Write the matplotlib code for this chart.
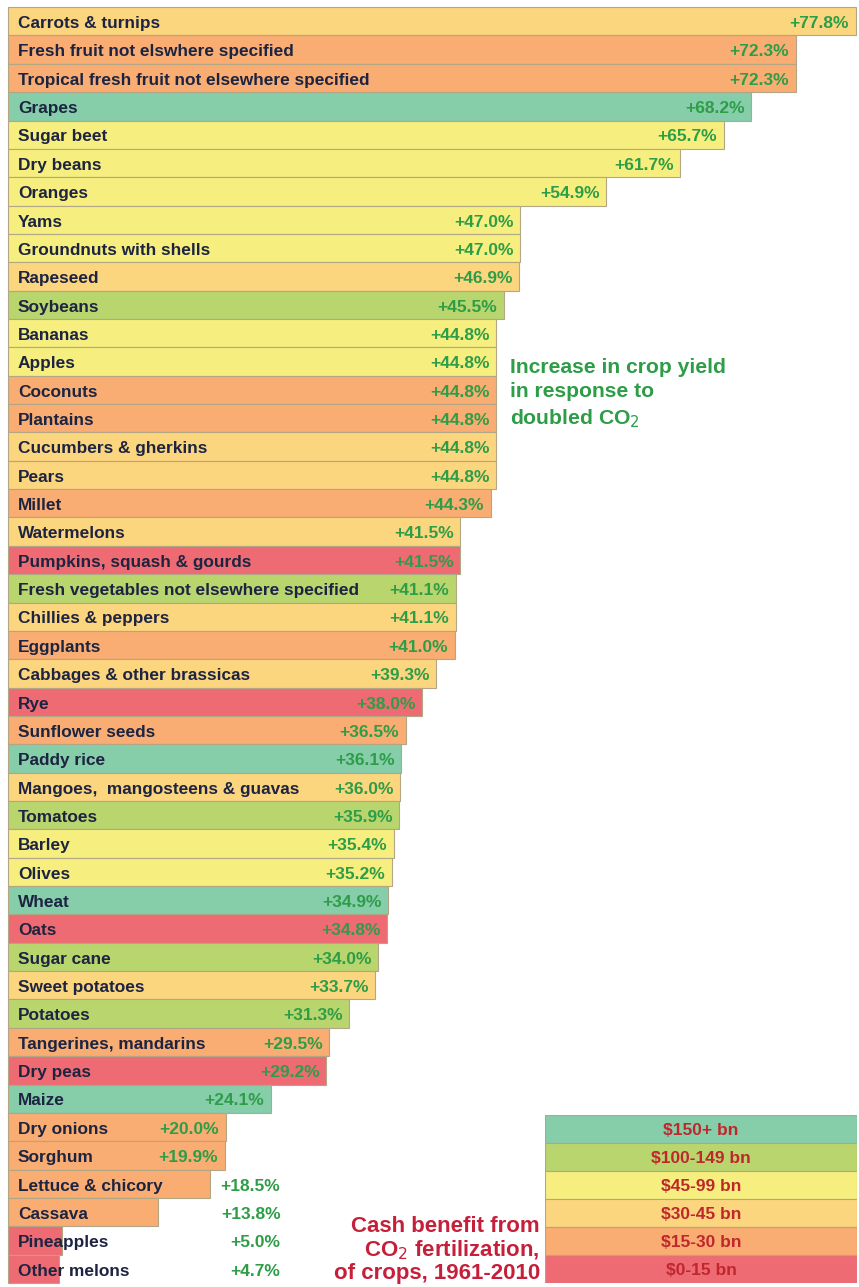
import matplotlib
matplotlib.use("Agg")
import matplotlib.pyplot as plt

# crops, ordered top to bottom
crops = [
    "Carrots & turnips", "Fresh fruit not elswhere specified",
    "Tropical fresh fruit not elsewhere specified", "Grapes", "Sugar beet",
    "Dry beans", "Oranges", "Yams", "Groundnuts with shells", "Rapeseed",
    "Soybeans", "Bananas", "Apples", "Coconuts", "Plantains",
    "Cucumbers & gherkins", "Pears", "Millet", "Watermelons",
    "Pumpkins, squash & gourds", "Fresh vegetables not elsewhere specified",
    "Chillies & peppers", "Eggplants", "Cabbages & other brassicas", "Rye",
    "Sunflower seeds", "Paddy rice", "Mangoes,  mangosteens & guavas",
    "Tomatoes", "Barley", "Olives", "Wheat", "Oats", "Sugar cane",
    "Sweet potatoes", "Potatoes", "Tangerines, mandarins", "Dry peas",
    "Maize", "Dry onions", "Sorghum", "Lettuce & chicory", "Cassava",
    "Pineapples", "Other melons",
]
yield_increase = [
    77.8, 72.3, 72.3, 68.2, 65.7, 61.7, 54.9, 47.0, 47.0, 46.9,
    45.5, 44.8, 44.8, 44.8, 44.8, 44.8, 44.8, 44.3, 41.5, 41.5,
    41.1, 41.1, 41.0, 39.3, 38.0, 36.5, 36.1, 36.0, 35.9, 35.4,
    35.2, 34.9, 34.8, 34.0, 33.7, 31.3, 29.5, 29.2, 24.1, 20.0,
    19.9, 18.5, 13.8, 5.0, 4.7,
]
# cash benefit band for each crop (index into bands below)
benefit_band = [
    3, 4, 4, 0, 2, 2, 2, 2, 2, 3,
    1, 2, 2, 4, 4, 3, 3, 4, 3, 5,
    1, 3, 4, 3, 5, 4, 0, 3, 1, 2,
    2, 0, 5, 1, 3, 1, 4, 5, 0, 4,
    4, 4, 4, 5, 5,
]
bands = ["$150+ bn", "$100-149 bn", "$45-99 bn", "$30-45 bn", "$15-30 bn", "$0-15 bn"]
band_colors = ["#86cdaa", "#b9d56e", "#f6ee7e", "#fcd57f", "#f9ad72", "#ee6b73"]

NAVY = "#1c2442"
GREEN = "#2e9d47"
RED = "#c61f3a"
EDGE = "#b3a684"
FONT = ["Liberation Sans Narrow", "Liberation Sans", "DejaVu Sans"]

fig = plt.figure(figsize=(8.59, 12.87), dpi=100)
ax = fig.add_axes([0, 0, 1, 1])

ypos = list(range(len(crops)))
colors = [band_colors[b] for b in benefit_band]
ax.barh(ypos, yield_increase, height=1.0, left=0, color=colors,
        edgecolor=EDGE, linewidth=0.8)

for y, name, val in zip(ypos, crops, yield_increase):
    ax.text(0.9, y + 0.08, name, ha="left", va="center", fontsize=12.4,
            fontweight="bold", color=NAVY, family=FONT)
    # short bars get their value outside, in a common column
    vx = val - 0.6 if val >= 19 else 25.0
    ax.text(vx, y + 0.08, f"+{val:.1f}%", ha="right", va="center",
            fontsize=12.5, fontweight="bold", color=GREEN, family=FONT)

ax.set_xlim(-0.73, 78.1)
ax.set_ylim(44.64, -0.75)
ax.axis("off")

fig.text(510 / 859, 1 - 358 / 1287,
         "Increase in crop yield\nin response to\ndoubled CO$_2$",
         ha="left", va="top", fontsize=15.2, fontweight="bold", color=GREEN,
         family=FONT, linespacing=1.35)

fig.text(540 / 859, 3 / 1287,
         "Cash benefit from\nCO$_2$ fertilization,\nof crops, 1961-2010",
         ha="right", va="bottom", fontsize=16, fontweight="bold", color=RED,
         family=FONT, linespacing=1.08)

# colour key for the benefit bands
lax = fig.add_axes([545 / 859, 4 / 1287, 312 / 859, 168 / 1287])
lax.barh(range(len(bands)), [1] * len(bands), height=1.0, color=band_colors,
         edgecolor=EDGE, linewidth=0.8)
for i, lab in enumerate(bands):
    lax.text(0.5, i + 0.05, lab, ha="center", va="center", fontsize=12.5,
             fontweight="bold", color="#c0272d", family=FONT)
lax.set_xlim(0, 1)
lax.set_ylim(len(bands) - 0.5, -0.5)
lax.axis("off")

fig.savefig("out.png", dpi=100)
